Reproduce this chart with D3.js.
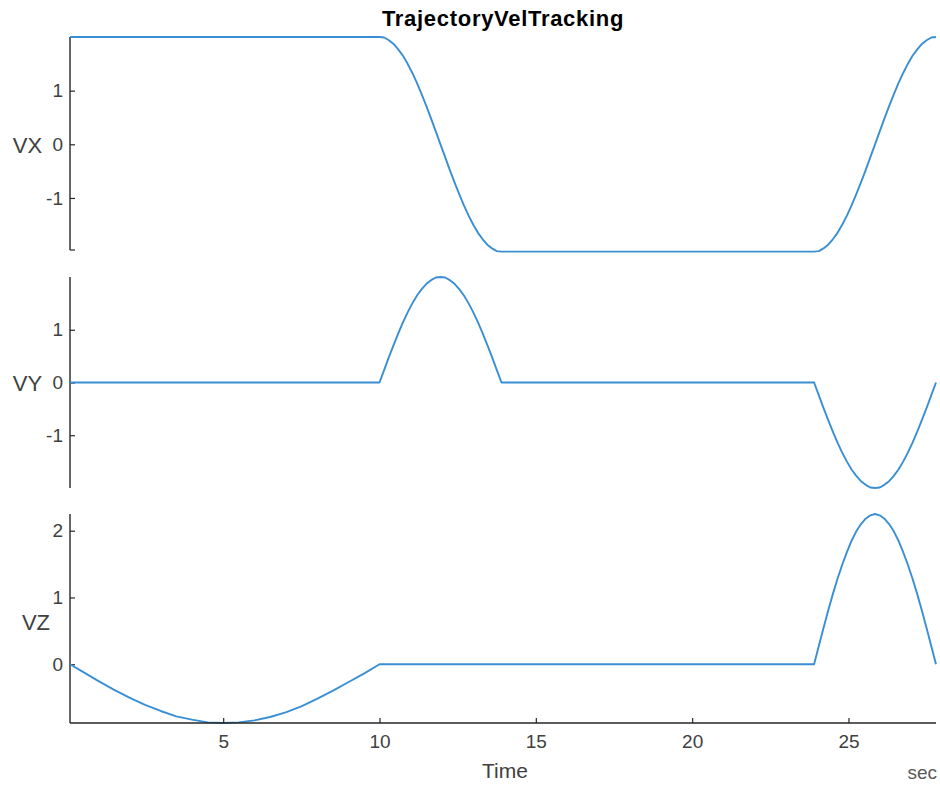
<!DOCTYPE html>
<html lang="en">
<head>
    <meta charset="UTF-8">
    <title>TrajectoryVelTracking</title>
    <script src="https://d3js.org/d3.v7.min.js"></script>
    <style>
        body {
            margin: 0;
            background-color: #ffffff;
            font-family: "Liberation Sans", Arial, sans-serif;
        }
        .tick text {
            font-size: 19px;
            fill: #404040;
            font-family: "Liberation Sans", Arial, sans-serif;
        }
        .ylabel {
            font-size: 22px;
            fill: #404040;
        }
        .xlabel {
            font-size: 21px;
            fill: #404040;
        }
    </style>
</head>
<body>
    <svg id="chart" width="940" height="785"></svg>

    <script>
        // time samples (sec)
        const time = [0.1, 0.5, 1, 1.5, 2, 2.5, 3, 3.5, 4, 4.5, 5, 5.5, 6, 6.5, 7, 7.5, 8, 8.5, 9, 9.5, 10,
                      10.15, 10.3, 10.45, 10.6, 10.75, 10.9, 11.05, 11.2, 11.35, 11.5, 11.65, 11.8, 11.95,
                      12.1, 12.25, 12.4, 12.55, 12.7, 12.85, 13.0, 13.15, 13.3, 13.45, 13.6, 13.75, 13.9,
                      23.9, 24.05, 24.2, 24.35, 24.5, 24.65, 24.8, 24.95, 25.1, 25.25, 25.4, 25.55, 25.7, 25.85,
                      26.0, 26.15, 26.3, 26.45, 26.6, 26.75, 26.9, 27.05, 27.2, 27.35, 27.5, 27.65, 27.8];

        const vx = [2, 2, 2, 2, 2, 2, 2, 2, 2, 2, 2, 2, 2, 2, 2, 2, 2, 2, 2, 2, 2,
                    1.99, 1.94, 1.87, 1.77, 1.65, 1.50, 1.33, 1.14, 0.93, 0.71, 0.48, 0.24, 0,
                    -0.24, -0.48, -0.71, -0.93, -1.14, -1.33, -1.50, -1.65, -1.77, -1.87, -1.94, -1.99, -2,
                    -2, -1.99, -1.94, -1.87, -1.77, -1.65, -1.50, -1.33, -1.14, -0.93, -0.71, -0.48, -0.24, 0,
                    0.24, 0.48, 0.71, 0.93, 1.14, 1.33, 1.50, 1.65, 1.77, 1.87, 1.94, 1.99, 2];

        const vy = [0, 0, 0, 0, 0, 0, 0, 0, 0, 0, 0, 0, 0, 0, 0, 0, 0, 0, 0, 0, 0,
                    0.24, 0.48, 0.71, 0.93, 1.14, 1.33, 1.50, 1.65, 1.77, 1.87, 1.94, 1.99, 2.00,
                    1.99, 1.94, 1.87, 1.77, 1.65, 1.50, 1.33, 1.14, 0.93, 0.71, 0.48, 0.24, 0,
                    0, -0.24, -0.48, -0.71, -0.93, -1.14, -1.33, -1.50, -1.65, -1.77, -1.87, -1.94, -1.99, -2.00,
                    -1.99, -1.94, -1.87, -1.77, -1.65, -1.50, -1.33, -1.14, -0.93, -0.71, -0.48, -0.24, 0];

        const vz = [0, -0.11, -0.25, -0.38, -0.50, -0.61, -0.70, -0.78, -0.83, -0.87, -0.88, -0.87, -0.84, -0.79, -0.72, -0.63, -0.52, -0.40, -0.27, -0.14, 0,
                    0, 0, 0, 0, 0, 0, 0, 0, 0, 0, 0, 0, 0,
                    0, 0, 0, 0, 0, 0, 0, 0, 0, 0, 0, 0, 0,
                    0, 0.27, 0.54, 0.80, 1.05, 1.28, 1.49, 1.68, 1.85, 1.99, 2.10, 2.18, 2.23, 2.25,
                    2.23, 2.18, 2.10, 1.99, 1.85, 1.68, 1.49, 1.28, 1.05, 0.80, 0.54, 0.27, 0];

        const xTicks = [5, 10, 15, 20, 25];

        const panels = [
            { name: "VX", values: vx, domain: [-1.97, 2.0], ticks: [-1, 0, 1], top: 37, bottom: 250, endTicks: true, labelX: 27.5, labelY: 145 },
            { name: "VY", values: vy, domain: [-2, 2], ticks: [-1, 0, 1], top: 277, bottom: 488, endTicks: false, labelX: 27.5, labelY: 383 },
            { name: "VZ", values: vz, domain: [-0.88, 2.25], ticks: [0, 1, 2], top: 514, bottom: 723, endTicks: false, labelX: 36, labelY: 622 }
        ];

        const left = 70, right = 936;
        const lineColor = "#3a8fd4";
        const axisColor = "#262626";

        const svg = d3.select("#chart");

        const xScale = d3.scaleLinear()
                         .domain([0.1, 27.8])
                         .range([left, right]);

        // title
        svg.append("text")
           .attr("x", (left + right) / 2)
           .attr("y", 26)
           .attr("text-anchor", "middle")
           .attr("font-size", "22px")
           .attr("font-weight", "bold")
           .attr("letter-spacing", "0.7px")
           .attr("fill", "#000")
           .text("TrajectoryVelTracking");

        panels.forEach((p, i) => {
            const yScale = d3.scaleLinear()
                             .domain(p.domain)
                             .range([p.bottom, p.top]);

            const yAxis = svg.append("g")
               .attr("transform", `translate(${left},0)`)
               .call(d3.axisLeft(yScale)
                       .tickValues(p.ticks)
                       .tickSize(-5)
                       .tickPadding(7)
                       .tickFormat(d => String(d)));
            yAxis.select(".domain").remove();
            yAxis.selectAll(".tick line").attr("stroke", axisColor).attr("stroke-width", 1.2);

            svg.append("line")
               .attr("x1", left).attr("x2", left)
               .attr("y1", p.top).attr("y2", p.bottom)
               .attr("stroke", axisColor)
               .attr("stroke-width", 1.4);

            if (p.endTicks) {
                [p.top, p.bottom].forEach(y => {
                    svg.append("line")
                       .attr("x1", left).attr("x2", left + 5)
                       .attr("y1", y).attr("y2", y)
                       .attr("stroke", axisColor)
                       .attr("stroke-width", 1.2);
                });
            }

            svg.append("text")
               .attr("class", "ylabel")
               .attr("x", p.labelX)
               .attr("y", p.labelY)
               .attr("dy", "0.36em")
               .attr("text-anchor", "middle")
               .text(p.name);

            const line = d3.line()
                           .x((d, j) => xScale(time[j]))
                           .y(d => yScale(d));

            svg.append("path")
               .datum(p.values)
               .attr("d", line)
               .attr("fill", "none")
               .attr("stroke", lineColor)
               .attr("stroke-width", 1.9)
               .attr("stroke-linejoin", "round");

            // time axis only under the last panel
            if (i === panels.length - 1) {
                const xAxis = svg.append("g")
                   .attr("transform", `translate(0,${p.bottom})`)
                   .call(d3.axisBottom(xScale)
                           .tickValues(xTicks)
                           .tickSize(-5)
                           .tickPadding(12));
                xAxis.select(".domain").remove();
                xAxis.selectAll(".tick line").attr("stroke", axisColor).attr("stroke-width", 1.2);

                svg.append("line")
                   .attr("x1", left).attr("x2", right)
                   .attr("y1", p.bottom).attr("y2", p.bottom)
                   .attr("stroke", axisColor)
                   .attr("stroke-width", 1.4);
            }
        });

        svg.append("text")
           .attr("class", "xlabel")
           .attr("x", (left + right) / 2 + 2)
           .attr("y", 778)
           .attr("text-anchor", "middle")
           .text("Time");

        svg.append("text")
           .attr("x", right + 1)
           .attr("y", 779)
           .attr("text-anchor", "end")
           .attr("font-size", "19px")
           .attr("fill", "#595959")
           .text("sec");
    </script>
</body>
</html>
